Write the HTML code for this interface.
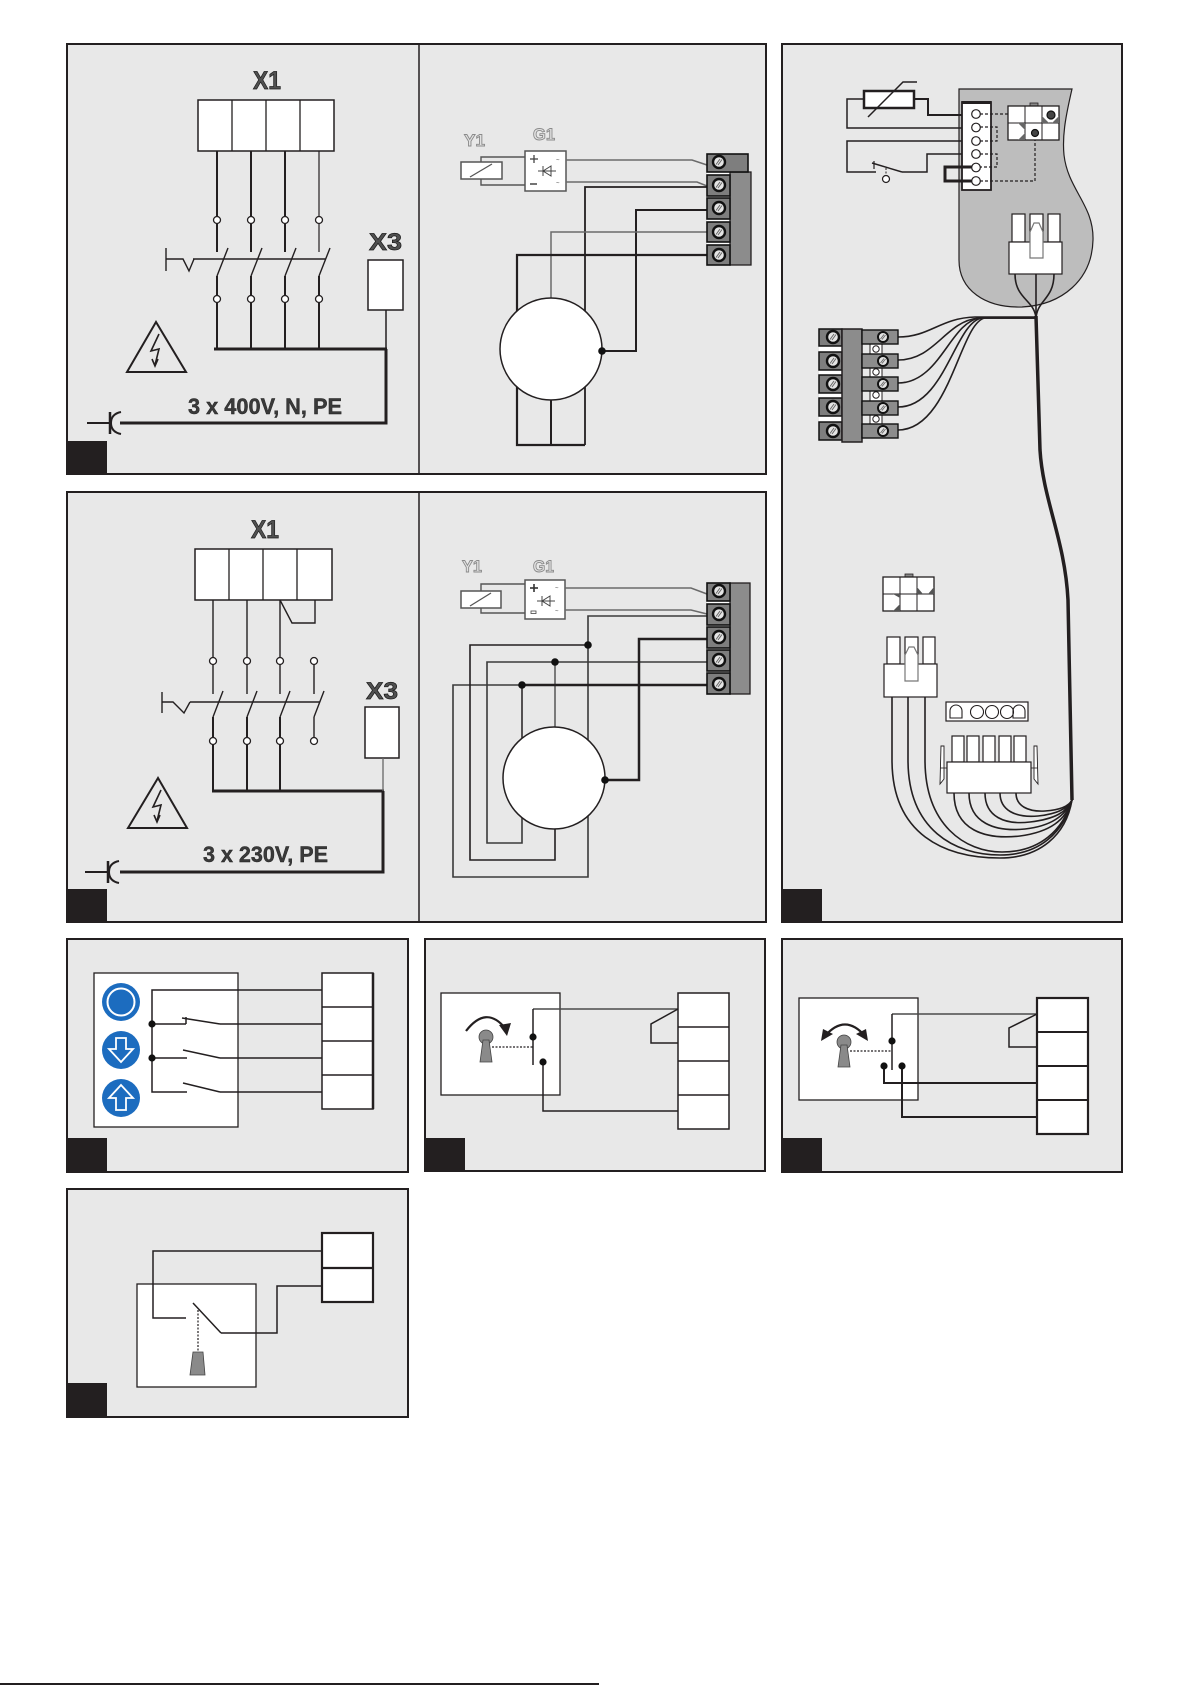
<!DOCTYPE html>
<html>
<head>
<meta charset="utf-8">
<style>
html,body{margin:0;padding:0;background:#fff}
svg{display:block}
text{font-family:"Liberation Sans",Arial,sans-serif;font-weight:bold}
</style>
</head>
<body>
<svg width="1191" height="1685" viewBox="0 0 1191 1685" xmlns="http://www.w3.org/2000/svg">
<defs>
<g id="scr"><circle r="6" fill="#e4e4e4" stroke="#111" stroke-width="2.4"/><line x1="-3" y1="2.5" x2="1" y2="-3" stroke="#666" stroke-width="1"/><line x1="-1" y1="3" x2="3" y2="-2.5" stroke="#666" stroke-width="1"/></g>
<g id="scs"><circle r="5" fill="#e4e4e4" stroke="#111" stroke-width="2"/><line x1="-2.5" y1="2" x2="1" y2="-2.5" stroke="#666" stroke-width="0.9"/><line x1="-1" y1="2.5" x2="2.5" y2="-2" stroke="#666" stroke-width="0.9"/></g>
</defs>

<!-- panels -->
<g stroke="#231f20" stroke-width="2" fill="#e8e8e8">
<rect x="67" y="44" width="699" height="430"/>
<rect x="67" y="492" width="699" height="430"/>
<rect x="782" y="44" width="340" height="878"/>
<rect x="67" y="939" width="341" height="233"/>
<rect x="425" y="939" width="340" height="232"/>
<rect x="782" y="939" width="340" height="233"/>
<rect x="67" y="1189" width="341" height="228"/>
</g>
<g stroke="#231f20" stroke-width="1.5">
<line x1="419" y1="44" x2="419" y2="474"/>
<line x1="419" y1="492" x2="419" y2="922"/>
</g>
<g fill="#231f20">
<rect x="67" y="441" width="40" height="33"/>
<rect x="67" y="889" width="40" height="33"/>
<rect x="782" y="889" width="40" height="33"/>
<rect x="67" y="1138" width="40" height="34"/>
<rect x="425" y="1138" width="40" height="33"/>
<rect x="782" y="1138" width="40" height="34"/>
<rect x="67" y="1383" width="40" height="34"/>
</g>

<!-- ============ PANEL A LEFT ============ -->
<text x="253" y="89" font-size="25" fill="#505050" stroke="#1a1a1a" stroke-width="0.7" textLength="28" lengthAdjust="spacingAndGlyphs">X1</text>
<g stroke="#231f20" fill="none">
<rect x="198" y="100" width="136" height="51" fill="#fff" stroke-width="1.5"/>
<line x1="232" y1="100" x2="232" y2="151" stroke-width="1.3"/>
<line x1="266" y1="100" x2="266" y2="151" stroke-width="1.3"/>
<line x1="300" y1="100" x2="300" y2="151" stroke-width="1.3"/>
<g stroke-width="2">
<line x1="217" y1="151" x2="217" y2="252"/><line x1="251" y1="151" x2="251" y2="252"/><line x1="285" y1="151" x2="285" y2="252"/>
<line x1="217" y1="276" x2="217" y2="349"/><line x1="251" y1="276" x2="251" y2="349"/><line x1="285" y1="276" x2="285" y2="349"/><line x1="319" y1="276" x2="319" y2="349"/>
</g>
<line x1="319" y1="151" x2="319" y2="252" stroke-width="1.2"/>
<g stroke-width="1.4">
<line x1="217" y1="276" x2="228" y2="248"/><line x1="251" y1="276" x2="262" y2="248"/><line x1="285" y1="276" x2="296" y2="248"/><line x1="319" y1="276" x2="330" y2="248"/>
<line x1="193" y1="259" x2="326" y2="259"/>
<line x1="166" y1="248" x2="166" y2="271"/>
<polyline points="166,259 183,259 189,271 194,259"/>
</g>
<g fill="#fff" stroke-width="1.3">
<circle cx="217" cy="220" r="3.5"/><circle cx="251" cy="220" r="3.5"/><circle cx="285" cy="220" r="3.5"/><circle cx="319" cy="220" r="3.5"/>
<circle cx="217" cy="299" r="3.5"/><circle cx="251" cy="299" r="3.5"/><circle cx="285" cy="299" r="3.5"/><circle cx="319" cy="299" r="3.5"/>
</g>
<line x1="214" y1="349" x2="387" y2="349" stroke-width="3"/>
<polyline points="386,349 386,423 120,423" stroke-width="3"/>
<rect x="368" y="260" width="35" height="50" fill="#fff" stroke-width="1.5"/>
<line x1="386" y1="310" x2="386" y2="349" stroke-width="1.5"/>
<line x1="87" y1="423" x2="110" y2="423" stroke-width="2"/>
<line x1="110" y1="412" x2="110" y2="434" stroke-width="2.5"/>
<path d="M121,412 Q111,414 111,423 Q111,432 121,434" stroke-width="2"/>
<polygon points="156,322 127,372 186,372" stroke-width="2"/>
<polyline points="159,334 151,351 159,349 155,365" stroke-width="1.6"/>
<polyline points="152,359 155,366 158,359" stroke-width="1.6"/>
</g>
<text x="369" y="250" font-size="24" fill="#505050" stroke="#1a1a1a" stroke-width="0.7" textLength="33" lengthAdjust="spacingAndGlyphs">X3</text>
<text x="188" y="414" font-size="22" fill="#3a3a3a" stroke="#1a1a1a" stroke-width="0.4" textLength="154" lengthAdjust="spacingAndGlyphs">3 x 400V, N, PE</text>

<!-- ============ PANEL A RIGHT ============ -->
<text x="464" y="146" font-size="17" fill="#e2e2e2" stroke="#8a8a8a" stroke-width="0.9" textLength="21" lengthAdjust="spacingAndGlyphs">Y1</text>
<text x="533" y="140" font-size="17" fill="#e2e2e2" stroke="#8a8a8a" stroke-width="0.9" textLength="22" lengthAdjust="spacingAndGlyphs">G1</text>
<g fill="none">
<polyline points="481,162 481,157 525,157" stroke="#555" stroke-width="1.4"/>
<polyline points="481,179 481,185 525,185" stroke="#555" stroke-width="1.4"/>
<rect x="461" y="162" width="41" height="17" fill="#fff" stroke="#555" stroke-width="1.5"/>
<line x1="470" y1="177" x2="492" y2="164" stroke="#555" stroke-width="1.3"/>
<rect x="525" y="151" width="41" height="40" fill="#fff" stroke="#555" stroke-width="1.5"/>
<line x1="530" y1="159" x2="538" y2="159" stroke="#444" stroke-width="1.3"/><line x1="534" y1="155" x2="534" y2="163" stroke="#444" stroke-width="1.3"/>
<line x1="530" y1="184" x2="537" y2="184" stroke="#444" stroke-width="1.5"/>
<line x1="538" y1="171" x2="556" y2="171" stroke="#444" stroke-width="1"/>
<polygon points="543,171 551,166 551,176" stroke="#444" stroke-width="1"/>
<line x1="543" y1="166" x2="543" y2="176" stroke="#444" stroke-width="1"/>
<text x="556" y="162" font-size="6" fill="#888" font-weight="normal">~</text>
<text x="556" y="185" font-size="6" fill="#888" font-weight="normal">~</text>
<polyline points="566,160 692,160 707,165" stroke="#6a6a6a" stroke-width="1.5"/>
<polyline points="566,182 697,182 707,186" stroke="#6a6a6a" stroke-width="1.5"/>
<polyline points="707,187 585,187 585,445" stroke="#231f20" stroke-width="1.8"/>
<polyline points="707,210 636,210 636,351 602,351" stroke="#231f20" stroke-width="2"/>
<polyline points="707,232 551,232 551,298" stroke="#6a6a6a" stroke-width="1.5"/>
<polyline points="707,255 517,255 517,445 585,445" stroke="#231f20" stroke-width="2.2"/>
<line x1="551" y1="398" x2="551" y2="445" stroke="#231f20" stroke-width="2"/>
<circle cx="551" cy="349" r="51" fill="#fff" stroke="#231f20" stroke-width="1.5"/>
<circle cx="602" cy="351" r="3.8" fill="#111"/>
</g>
<rect x="707" y="154" width="23" height="111" fill="#fff"/>
<rect x="730" y="172" width="21" height="93" fill="#8c8c8c" stroke="#231f20" stroke-width="1.3"/>
<g fill="#7e7e7e" stroke="#111" stroke-width="1.6">
<rect x="707" y="154" width="41" height="18"/>
<rect x="707" y="175" width="23" height="21"/>
<rect x="707" y="198" width="23" height="21"/>
<rect x="707" y="222" width="23" height="20"/>
<rect x="707" y="245" width="23" height="20"/>
</g>
<use href="#scr" x="719" y="162"/><use href="#scr" x="719" y="185"/><use href="#scr" x="719" y="208"/><use href="#scr" x="719" y="232"/><use href="#scr" x="719" y="255"/>

<!-- ============ PANEL B LEFT ============ -->
<text x="251" y="538" font-size="25" fill="#505050" stroke="#1a1a1a" stroke-width="0.7" textLength="28" lengthAdjust="spacingAndGlyphs">X1</text>
<g stroke="#231f20" fill="none">
<rect x="195" y="549" width="137" height="51" fill="#fff" stroke-width="1.5"/>
<line x1="229" y1="549" x2="229" y2="600" stroke-width="1.3"/>
<line x1="263" y1="549" x2="263" y2="600" stroke-width="1.3"/>
<line x1="297" y1="549" x2="297" y2="600" stroke-width="1.3"/>
<g stroke-width="1.4">
<line x1="213" y1="600" x2="213" y2="694"/><line x1="247" y1="600" x2="247" y2="694"/><line x1="280" y1="600" x2="280" y2="694"/>
<line x1="314" y1="661" x2="314" y2="694"/>
<polyline points="280,600 292,623 315,623 315,600"/>
<line x1="213" y1="717" x2="223" y2="691"/><line x1="247" y1="717" x2="257" y2="691"/><line x1="280" y1="717" x2="290" y2="691"/><line x1="314" y1="717" x2="324" y2="691"/>
<line x1="190" y1="702" x2="320" y2="702"/>
<line x1="162" y1="692" x2="162" y2="713"/>
<polyline points="162,702 173,702 184,713 190,702"/>
<line x1="314" y1="717" x2="314" y2="741"/>
</g>
<g stroke-width="2">
<line x1="213" y1="717" x2="213" y2="791"/><line x1="247" y1="717" x2="247" y2="791"/><line x1="280" y1="717" x2="280" y2="791"/>
</g>
<g fill="#fff" stroke-width="1.3">
<circle cx="213" cy="661" r="3.5"/><circle cx="247" cy="661" r="3.5"/><circle cx="280" cy="661" r="3.5"/><circle cx="314" cy="661" r="3.5"/>
<circle cx="213" cy="741" r="3.5"/><circle cx="247" cy="741" r="3.5"/><circle cx="280" cy="741" r="3.5"/><circle cx="314" cy="741" r="3.5"/>
</g>
<line x1="212" y1="791" x2="384" y2="791" stroke-width="3"/>
<polyline points="383,791 383,872 120,872" stroke-width="3"/>
<rect x="365" y="707" width="34" height="51" fill="#fff" stroke-width="1.5"/>
<line x1="383" y1="758" x2="383" y2="791" stroke="#666" stroke-width="1.3"/>
<line x1="85" y1="872" x2="108" y2="872" stroke-width="2"/>
<line x1="108" y1="861" x2="108" y2="883" stroke-width="2.5"/>
<path d="M119,861 Q109,863 109,872 Q109,881 119,883" stroke-width="2"/>
<polygon points="158,778 128,828 187,828" stroke-width="2"/>
<polyline points="161,790 153,807 161,805 157,821" stroke-width="1.6"/>
<polyline points="154,815 157,822 160,815" stroke-width="1.6"/>
</g>
<text x="366" y="699" font-size="24" fill="#505050" stroke="#1a1a1a" stroke-width="0.7" textLength="32" lengthAdjust="spacingAndGlyphs">X3</text>
<text x="203" y="862" font-size="22" fill="#3a3a3a" stroke="#1a1a1a" stroke-width="0.4" textLength="125" lengthAdjust="spacingAndGlyphs">3 x 230V, PE</text>

<!-- ============ PANEL B RIGHT ============ -->
<text x="462" y="572" font-size="17" fill="#e2e2e2" stroke="#8a8a8a" stroke-width="0.9" textLength="20" lengthAdjust="spacingAndGlyphs">Y1</text>
<text x="533" y="572" font-size="17" fill="#e2e2e2" stroke="#8a8a8a" stroke-width="0.9" textLength="21" lengthAdjust="spacingAndGlyphs">G1</text>
<g fill="none">
<polyline points="481,591 481,584 525,584" stroke="#555" stroke-width="1.4"/>
<polyline points="481,608 481,613 525,613" stroke="#555" stroke-width="1.4"/>
<rect x="461" y="591" width="40" height="17" fill="#fff" stroke="#555" stroke-width="1.5"/>
<line x1="470" y1="606" x2="491" y2="593" stroke="#555" stroke-width="1.3"/>
<rect x="525" y="580" width="40" height="39" fill="#fff" stroke="#555" stroke-width="1.5"/>
<line x1="530" y1="588" x2="538" y2="588" stroke="#333" stroke-width="1.6"/><line x1="534" y1="584" x2="534" y2="592" stroke="#333" stroke-width="1.6"/>
<rect x="531" y="611" width="5" height="2.5" stroke="#444" stroke-width="0.8"/>
<line x1="537" y1="601" x2="555" y2="601" stroke="#444" stroke-width="1"/>
<polygon points="542,601 550,596 550,606" stroke="#444" stroke-width="1"/>
<line x1="542" y1="596" x2="542" y2="606" stroke="#444" stroke-width="1"/>
<text x="555" y="590" font-size="6" fill="#888" font-weight="normal">~</text>
<text x="555" y="613" font-size="6" fill="#888" font-weight="normal">~</text>
<polyline points="565,588 691,588 707,594" stroke="#6a6a6a" stroke-width="1.5"/>
<polyline points="565,610 691,610 707,614" stroke="#6a6a6a" stroke-width="1.5"/>
<polyline points="707,616 588,616 588,877 453,877 453,685 522,685" stroke="#3a3a3a" stroke-width="1.6"/>
<polyline points="588,645 470,645 470,860 555,860 555,820" stroke="#231f20" stroke-width="1.6"/>
<polyline points="707,662 487,662 487,843 522,843 522,815" stroke="#3a3a3a" stroke-width="1.6"/>
<line x1="555" y1="662" x2="555" y2="730" stroke="#555" stroke-width="1.5"/>
<line x1="522" y1="685" x2="522" y2="750" stroke="#231f20" stroke-width="1.5"/>
<line x1="522" y1="685" x2="707" y2="685" stroke="#231f20" stroke-width="2.5"/>
<polyline points="707,639 639,639 639,780 605,780" stroke="#231f20" stroke-width="2.5"/>
<circle cx="554" cy="778" r="51" fill="#fff" stroke="#231f20" stroke-width="1.5"/>
<g fill="#111"><circle cx="588" cy="645" r="3.8"/><circle cx="555" cy="662" r="3.8"/><circle cx="522" cy="685" r="3.8"/><circle cx="605" cy="780" r="3.8"/></g>
</g>
<rect x="707" y="583" width="23" height="111" fill="#fff"/>
<rect x="730" y="583" width="20" height="111" fill="#8c8c8c" stroke="#231f20" stroke-width="1.3"/>
<g fill="#7e7e7e" stroke="#111" stroke-width="1.6">
<rect x="707" y="583" width="23" height="18"/>
<rect x="707" y="604" width="23" height="21"/>
<rect x="707" y="627" width="23" height="21"/>
<rect x="707" y="650" width="23" height="21"/>
<rect x="707" y="673" width="23" height="21"/>
</g>
<use href="#scr" x="719" y="591"/><use href="#scr" x="719" y="614"/><use href="#scr" x="719" y="637"/><use href="#scr" x="719" y="660"/><use href="#scr" x="719" y="684"/>

<!-- ============ PANEL C ============ -->
<path d="M959,89 L1072,89 C1066,115 1062,135 1064,155 C1068,190 1094,205 1093,240 C1092,280 1062,305 1022,307 C985,308 959,290 959,260 Z" fill="#bdbdbd" stroke="#231f20" stroke-width="1.2"/>
<g fill="none" stroke="#231f20">
<polyline points="864,99 847,99 847,128 972,128" stroke-width="1.5"/>
<polyline points="914,99 928,99 928,115 972,115" stroke-width="2"/>
<rect x="864" y="91" width="50" height="17" fill="#fff" stroke-width="2.5"/>
<polyline points="868,117 903,82 917,82" stroke-width="1.5"/>
<polyline points="972,141 847,141 847,172 876,172" stroke-width="1.5"/>
<line x1="872" y1="163" x2="902" y2="172" stroke-width="1.5"/>
<line x1="874" y1="161" x2="874" y2="169" stroke-width="1.2"/>
<line x1="886" y1="168" x2="886" y2="175" stroke-width="1" stroke-dasharray="2,1.5"/>
<circle cx="886" cy="179" r="3.5" fill="#fff" stroke-width="1.2"/>
<polyline points="902,172 927,172 927,154 972,154" stroke-width="1.5"/>
<rect x="962" y="102" width="29" height="88" fill="#fff" stroke-width="1.8"/>
<line x1="962" y1="102.5" x2="991" y2="102.5" stroke-width="3"/>
<polyline points="976,167 945,167 945,181 976,181" stroke-width="3"/>
<g stroke-width="1.2" stroke-dasharray="3,2">
<line x1="980" y1="114" x2="1051" y2="114"/>
<polyline points="980,127 997,127 997,141 980,141"/>
<polyline points="980,154 997,154 997,167 980,167"/>
<polyline points="980,181 1035,181 1035,135"/>
</g>
<g fill="#fff" stroke-width="1.2">
<circle cx="976" cy="114" r="4.3"/><circle cx="976" cy="127.5" r="4.3"/><circle cx="976" cy="141" r="4.3"/><circle cx="976" cy="154" r="4.3"/><circle cx="976" cy="167.5" r="4.3"/><circle cx="976" cy="181" r="4.3"/>
</g>
<rect x="1030" y="103" width="8" height="3" fill="#888" stroke-width="0.8"/>
<rect x="1008" y="106" width="51" height="34" fill="#fff" stroke-width="1.3"/>
<line x1="1025" y1="106" x2="1025" y2="140" stroke-width="1"/><line x1="1042" y1="106" x2="1042" y2="140" stroke-width="1"/><line x1="1008" y1="123" x2="1059" y2="123" stroke-width="1"/>
<polygon points="1059,116 1059,123 1052,123" fill="#666" stroke="none"/>
<polygon points="1042,116 1042,123 1049,123" fill="#666" stroke="none"/>
<polygon points="1018,123 1025,123 1025,130" fill="#666" stroke="none"/>
<polygon points="1018,140 1025,140 1025,133" fill="#666" stroke="none"/>
<circle cx="1051" cy="115" r="4" fill="#444" stroke="#111" stroke-width="1.2"/>
<circle cx="1035" cy="133" r="3.5" fill="#444" stroke="#111" stroke-width="1.2"/>
<rect x="1012" y="214" width="13" height="28" fill="#fff" stroke-width="1.2"/>
<rect x="1030" y="214" width="13" height="28" fill="#fff" stroke-width="1.2"/>
<rect x="1048" y="214" width="12" height="28" fill="#fff" stroke-width="1.2"/>
<rect x="1009" y="242" width="53" height="32" fill="#fff" stroke-width="1.2"/>
<path d="M1030,258 L1030,232 L1034,223 L1039,223 L1043,232 L1043,258 Z" fill="#fff" stroke="#777" stroke-width="1.2"/>
<path d="M1015,274 C1015,300 1036,300 1036,320" stroke-width="1.6"/>
<path d="M1036,274 L1036,320" stroke-width="1.6"/>
<path d="M1054,274 C1054,300 1036,300 1036,320" stroke-width="1.6"/>
<path d="M1036,316 L1040,450 C1043,500 1065,540 1068,600 L1072,800" stroke-width="3.5"/>
<path d="M898,337 C930,337 940,318 975,317 L1036,317" stroke-width="1.6"/>
<path d="M898,360 C935,360 945,322 978,318 L1036,318" stroke-width="1.6"/>
<path d="M898,383 C940,383 950,322 980,318 L1036,318" stroke-width="1.6"/>
<path d="M898,407 C945,407 955,322 982,318 L1036,318" stroke-width="1.6"/>
<path d="M898,430 C950,430 960,322 985,318 L1036,318" stroke-width="1.6"/>
</g>
<rect x="819" y="329" width="23" height="111" fill="#fff"/>
<g fill="#7e7e7e" stroke="#111" stroke-width="1.5">
<rect x="819" y="329" width="23" height="17"/>
<rect x="819" y="352" width="23" height="18"/>
<rect x="819" y="375" width="23" height="18"/>
<rect x="819" y="398" width="23" height="18"/>
<rect x="819" y="422" width="23" height="18"/>
</g>
<rect x="842" y="329" width="20" height="113" fill="#8c8c8c" stroke="#231f20" stroke-width="1.5"/>
<g fill="#fff" stroke="#231f20" stroke-width="1">
<rect x="870" y="343" width="12" height="12"/><rect x="870" y="366" width="12" height="12"/><rect x="870" y="389" width="12" height="12"/><rect x="870" y="413" width="12" height="12"/>
</g>
<g fill="#fff" stroke="#231f20" stroke-width="1"><circle cx="876" cy="349" r="3.2"/><circle cx="876" cy="372" r="3.2"/><circle cx="876" cy="395" r="3.2"/><circle cx="876" cy="419" r="3.2"/></g>
<g fill="#8c8c8c" stroke="#111" stroke-width="1.4">
<rect x="862" y="330" width="36" height="14"/>
<rect x="862" y="354" width="36" height="14"/>
<rect x="862" y="377" width="36" height="14"/>
<rect x="862" y="401" width="36" height="14"/>
<rect x="862" y="424" width="36" height="14"/>
</g>
<use href="#scr" x="833" y="337"/><use href="#scr" x="833" y="361"/><use href="#scr" x="833" y="384"/><use href="#scr" x="833" y="407"/><use href="#scr" x="833" y="431"/>
<use href="#scs" x="883" y="337"/><use href="#scs" x="883" y="361"/><use href="#scs" x="883" y="384"/><use href="#scs" x="883" y="408"/><use href="#scs" x="883" y="431"/>

<g fill="none" stroke="#231f20">
<rect x="905" y="574" width="8" height="3" fill="#888" stroke-width="0.8"/>
<rect x="883" y="577" width="51" height="34" fill="#fff" stroke-width="1.3"/>
<line x1="900" y1="577" x2="900" y2="611" stroke-width="1"/><line x1="917" y1="577" x2="917" y2="611" stroke-width="1"/><line x1="883" y1="594" x2="934" y2="594" stroke-width="1"/>
<polygon points="917,587 923,594 917,594" fill="#555" stroke="none"/>
<polygon points="934,587 928,594 934,594" fill="#555" stroke="none"/>
<polygon points="893,594 900,594 900,598" fill="#555" stroke="none"/>
<polygon points="893,611 900,611 900,604" fill="#555" stroke="none"/>
<path d="M892,697 L892,760 C892,835 945,858 1000,858 C1040,858 1066,835 1072,800" stroke-width="1.6"/>
<path d="M908,697 L908,760 C908,830 955,855 1000,855 C1040,855 1064,832 1072,800" stroke-width="1.6"/>
<path d="M925,697 L925,760 C925,825 965,852 1002,852 C1040,852 1063,830 1072,800" stroke-width="1.6"/>
<rect x="887" y="637" width="13" height="27" fill="#fff" stroke-width="1.2"/>
<rect x="905" y="637" width="13" height="27" fill="#fff" stroke-width="1.2"/>
<rect x="923" y="637" width="12" height="27" fill="#fff" stroke-width="1.2"/>
<rect x="884" y="664" width="53" height="33" fill="#fff" stroke-width="1.2"/>
<path d="M905,681 L905,655 L909,647 L914,647 L918,655 L918,681 Z" fill="#fff" stroke="#777" stroke-width="1.2"/>
<rect x="946" y="702" width="82" height="19" fill="#fff" stroke-width="1.2"/>
<path d="M950,718 L950,711 A6,6 0 0 1 962,711 L962,718 Z" stroke-width="1.1"/>
<circle cx="977" cy="712" r="6.5" stroke-width="1.1"/><circle cx="992" cy="712" r="6.5" stroke-width="1.1"/><circle cx="1007" cy="712" r="6.5" stroke-width="1.1"/>
<path d="M1013,718 L1013,711 A6,6 0 0 1 1025,711 L1025,718 Z" stroke-width="1.1"/>
<path d="M954,793 C954,830 985,840 1020,836 C1050,832 1066,820 1072,800" stroke-width="1.6"/>
<path d="M969,793 C969,823 995,832 1025,829 C1052,826 1066,815 1072,800" stroke-width="1.6"/>
<path d="M985,793 C985,817 1005,825 1030,822 C1055,819 1067,812 1072,800" stroke-width="1.6"/>
<path d="M1000,793 C1000,810 1015,818 1038,816 C1058,814 1068,808 1072,800" stroke-width="1.6"/>
<path d="M1016,793 C1016,806 1028,812 1045,811 C1060,810 1069,806 1072,800" stroke-width="1.6"/>
<rect x="952" y="736" width="12" height="26" fill="#fff" stroke-width="1.2"/>
<rect x="967" y="736" width="12" height="26" fill="#fff" stroke-width="1.2"/>
<rect x="983" y="736" width="12" height="26" fill="#fff" stroke-width="1.2"/>
<rect x="999" y="736" width="12" height="26" fill="#fff" stroke-width="1.2"/>
<rect x="1014" y="736" width="12" height="26" fill="#fff" stroke-width="1.2"/>
<rect x="947" y="762" width="84" height="31" fill="#fff" stroke-width="1.2"/>
<polygon points="941,746 944,746 944,779 940,784" fill="#fff" stroke-width="0.9"/>
<line x1="940" y1="768" x2="947" y2="768" stroke-width="0.8"/>
<polygon points="1034,746 1037,746 1038,784 1034,779" fill="#fff" stroke-width="0.9"/>
<line x1="1031" y1="768" x2="1038" y2="768" stroke-width="0.8"/>
</g>

<!-- ============ PANEL D ============ -->
<rect x="94" y="973" width="144" height="154" fill="#fff" stroke="#231f20" stroke-width="1.3"/>
<g fill="#1c6cbf">
<circle cx="121" cy="1002" r="19"/>
<circle cx="121" cy="1050" r="19"/>
<circle cx="121" cy="1098" r="19"/>
</g>
<circle cx="121" cy="1002" r="13.5" fill="none" stroke="#fff" stroke-width="2"/>
<polygon points="116,1038 126,1038 126,1049 133,1049 121,1062 109,1049 116,1049" fill="none" stroke="#fff" stroke-width="1.8" stroke-linejoin="miter"/>
<polygon points="121,1085 133,1098 126,1098 126,1110 116,1110 116,1098 109,1098" fill="none" stroke="#fff" stroke-width="1.8"/>
<g fill="none" stroke="#231f20" stroke-width="1.5">
<polyline points="322,990 152,990 152,1092 187,1092"/>
<line x1="152" y1="1024" x2="186" y2="1024"/>
<line x1="186" y1="1017" x2="186" y2="1024"/>
<line x1="182" y1="1018" x2="220" y2="1024"/>
<line x1="220" y1="1024" x2="322" y2="1024"/>
<line x1="152" y1="1058" x2="187" y2="1058"/>
<line x1="183" y1="1050" x2="220" y2="1058"/>
<line x1="220" y1="1058" x2="322" y2="1058"/>
<line x1="183" y1="1083" x2="220" y2="1092"/>
<line x1="220" y1="1092" x2="322" y2="1092"/>
<rect x="322" y="973" width="51" height="136" fill="#fff"/>
<line x1="322" y1="1007" x2="373" y2="1007"/><line x1="322" y1="1041" x2="373" y2="1041"/><line x1="322" y1="1075" x2="373" y2="1075"/>
<line x1="373" y1="973" x2="373" y2="1109" stroke-width="2.5"/>
</g>
<circle cx="152" cy="1024" r="3.6" fill="#111"/><circle cx="152" cy="1058" r="3.6" fill="#111"/>

<!-- ============ PANEL E ============ -->
<g fill="none" stroke="#231f20" stroke-width="1.5">
<rect x="441" y="993" width="119" height="102" fill="#fff" stroke-width="1.3"/>
<polyline points="533,1009 678,1009" stroke="#4a4a4a"/>
<polyline points="678,1009 651,1024 651,1043 678,1043"/>
<polyline points="543,1062 543,1111 678,1111"/>
<line x1="533" y1="1009" x2="533" y2="1065"/>
<line x1="492" y1="1047" x2="533" y2="1047" stroke-width="1.2" stroke-dasharray="2,1.5"/>
<path d="M466,1031 Q486,1005 505,1028" stroke-width="2.2"/>
<rect x="678" y="993" width="51" height="136" fill="#fff"/>
<line x1="678" y1="1027" x2="729" y2="1027"/><line x1="678" y1="1061" x2="729" y2="1061"/><line x1="678" y1="1095" x2="729" y2="1095"/>
</g>
<polygon points="499,1025 511,1023 507,1036" fill="#231f20"/>
<circle cx="486" cy="1037" r="7" fill="#8a8a8a" stroke="#444" stroke-width="0.8"/>
<polygon points="483,1040 489,1040 492,1062 480,1062" fill="#8a8a8a" stroke="#444" stroke-width="0.8"/>
<circle cx="533" cy="1037" r="3.6" fill="#111"/><circle cx="543" cy="1062" r="3.6" fill="#111"/>

<!-- ============ PANEL F ============ -->
<g fill="none" stroke="#231f20" stroke-width="1.5">
<rect x="799" y="998" width="119" height="102" fill="#fff" stroke-width="1.3"/>
<line x1="892" y1="1014" x2="1037" y2="1014" stroke="#4a4a4a"/>
<polyline points="1037,1014 1009,1028 1009,1047 1037,1047"/>
<polyline points="884,1066 884,1083 1037,1083" stroke-width="2"/>
<polyline points="902,1066 902,1117 1037,1117" stroke-width="2"/>
<line x1="892" y1="1014" x2="892" y2="1070"/>
<line x1="850" y1="1051" x2="892" y2="1051" stroke-width="1.2" stroke-dasharray="2,1.5"/>
<path d="M825,1036 Q845,1013 865,1036" stroke-width="2.2"/>
<rect x="1037" y="998" width="51" height="136" fill="#fff" stroke-width="2.2"/>
<line x1="1037" y1="1032" x2="1088" y2="1032" stroke-width="2"/><line x1="1037" y1="1066" x2="1088" y2="1066" stroke-width="2"/><line x1="1037" y1="1100" x2="1088" y2="1100" stroke-width="2"/>
</g>
<polygon points="821,1041 823,1029 833,1034" fill="#231f20"/>
<polygon points="868,1041 866,1029 856,1034" fill="#231f20"/>
<circle cx="844" cy="1042" r="7" fill="#8a8a8a" stroke="#444" stroke-width="0.8"/>
<polygon points="841,1045 847,1045 850,1067 838,1067" fill="#8a8a8a" stroke="#444" stroke-width="0.8"/>
<circle cx="892" cy="1041" r="3.6" fill="#111"/><circle cx="884" cy="1066" r="3.6" fill="#111"/><circle cx="902" cy="1066" r="3.6" fill="#111"/>

<!-- ============ PANEL G ============ -->
<g fill="none" stroke="#231f20" stroke-width="1.5">
<rect x="137" y="1284" width="119" height="103" fill="#fff" stroke-width="1.3"/>
<polyline points="322,1251 153,1251 153,1318 186,1318"/>
<line x1="193" y1="1303" x2="221" y2="1333"/>
<polyline points="221,1333 277,1333 277,1286 322,1286"/>
<line x1="198" y1="1310" x2="198" y2="1352" stroke-width="1.2" stroke-dasharray="2,1.5"/>
<rect x="322" y="1233" width="51" height="69" fill="#fff" stroke-width="2.2"/>
<line x1="322" y1="1268" x2="373" y2="1268" stroke-width="2.2"/>
</g>
<polygon points="193,1352 203,1352 205,1375 190,1375" fill="#8a8a8a" stroke="#444" stroke-width="0.8"/>

<line x1="0" y1="1684" x2="599" y2="1684" stroke="#231f20" stroke-width="2"/>
</svg>
</body>
</html>
